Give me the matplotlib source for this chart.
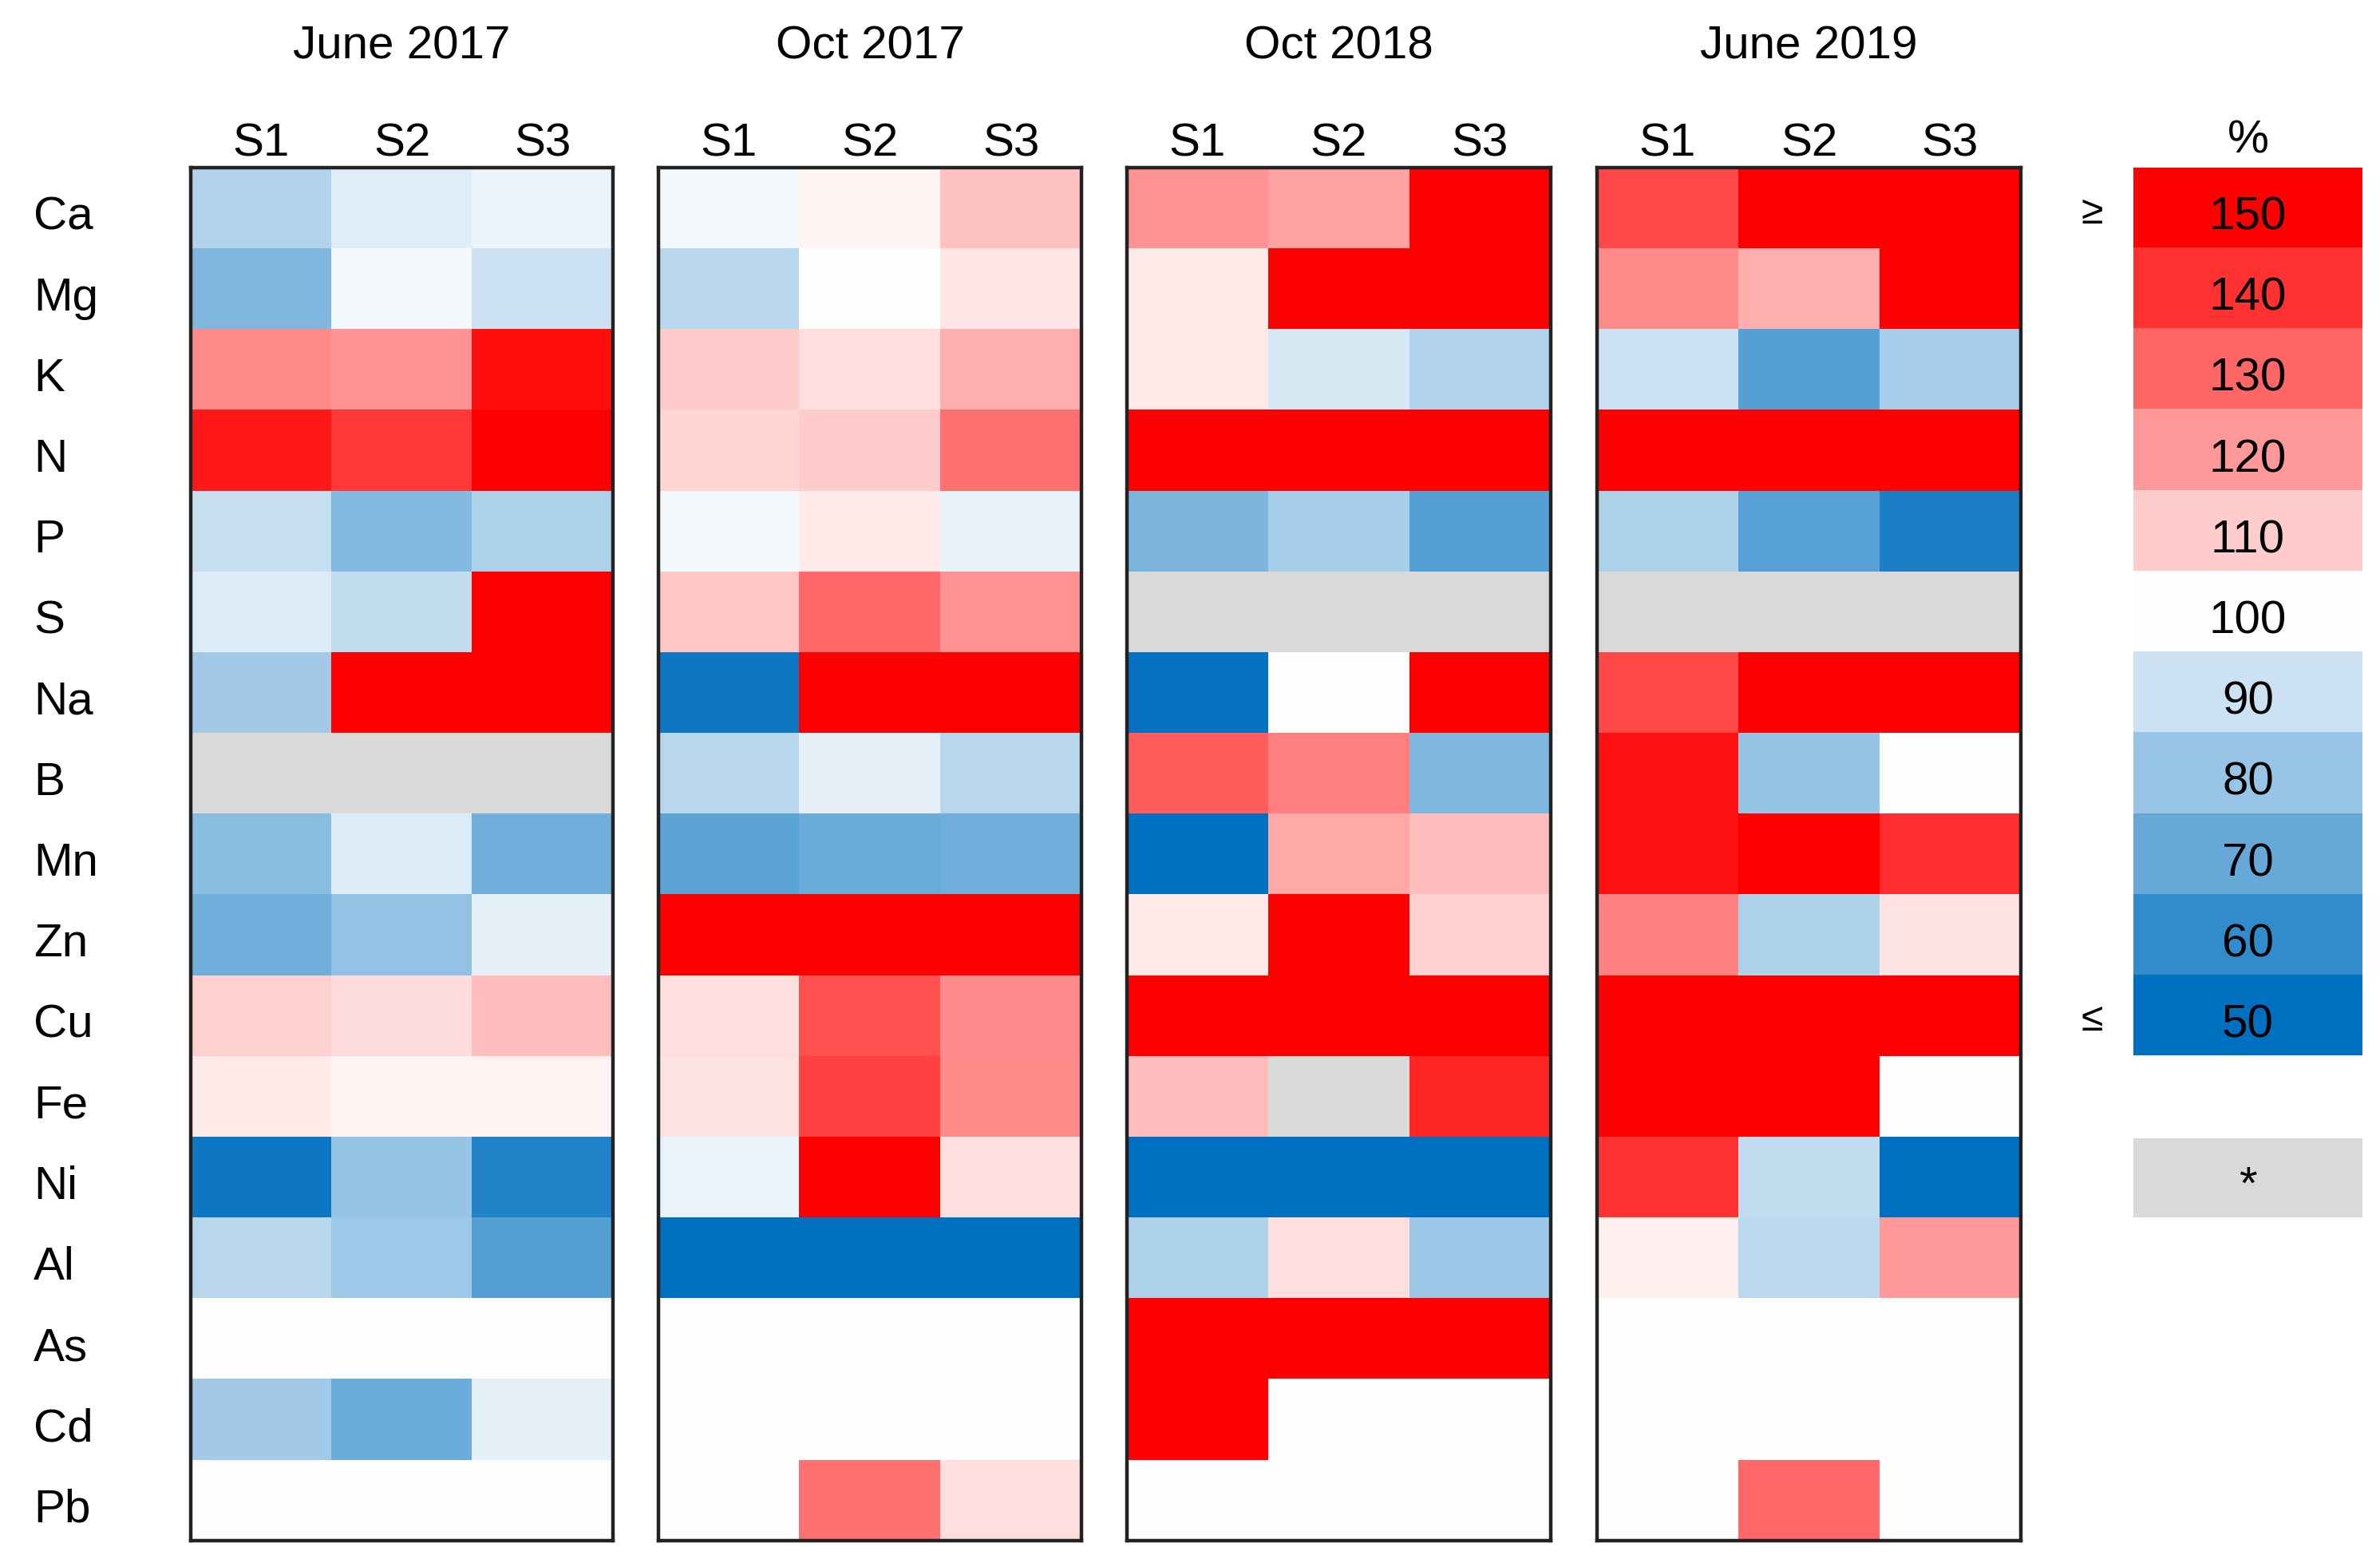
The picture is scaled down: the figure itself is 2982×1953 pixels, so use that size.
import numpy as np
import matplotlib
matplotlib.use("Agg")
import matplotlib.pyplot as plt
from matplotlib.colors import LinearSegmentedColormap, Normalize

plt.rcParams['font.family'] = ['Liberation Sans Narrow', 'Liberation Sans', 'DejaVu Sans']

elements = ["Ca", "Mg", "K", "N", "P", "S", "Na", "B", "Mn", "Zn",
            "Cu", "Fe", "Ni", "Al", "As", "Cd", "Pb"]
sites = ["S1", "S2", "S3"]
campaigns = ["June 2017", "Oct 2017", "Oct 2018", "June 2019"]
nan = np.nan

# % values (rows = elements, cols = S1..S3); nan = no data (*)
june_2017 = [
    [85, 94, 96], [75, 98, 90], [123, 121, 147], [145, 139, 155],
    [89, 76, 84], [93, 88, 155], [82, 155, 155], [nan, nan, nan],
    [77, 93, 72], [72, 79, 95], [109, 107, 113], [104, 102, 102.5],
    [53, 79.5, 57], [86, 81, 66.5], [100, 100, 100], [82, 71, 95],
    [100, 100, 100]]
oct_2017 = [
    [98, 102, 112], [86.5, 100, 105], [110, 106.5, 116], [108, 110, 128],
    [98, 104, 95.5], [111, 129, 121], [53, 155, 155], [86, 95, 86],
    [68, 71, 72], [155, 155, 155], [106.5, 134, 122.5], [105.5, 137, 123],
    [96, 155, 106.5], [45, 45, 45], [100, 100, 100], [100, 100, 100],
    [100, 128, 106.5]]
oct_2018 = [
    [121, 118, 155], [104, 155, 155], [104, 92, 84.5], [155, 155, 155],
    [74.5, 82.5, 66.5], [nan, nan, nan], [51, 100, 155], [132, 125, 75],
    [45, 117, 113], [104, 155, 109], [155, 155, 155], [113, nan, 142.5],
    [45, 45, 45], [84, 106.5, 80.5], [155, 155, 155], [155, 100, 100],
    [100, 100, 100]]
june_2019 = [
    [135.5, 155, 155], [123, 116, 155], [90, 66.5, 82.5], [155, 155, 155],
    [84, 67, 55.5], [nan, nan, nan], [135.5, 155, 155], [146.5, 79.5, 100],
    [146.5, 150, 141], [124.5, 84, 105.5], [155, 155, 155], [155, 155, 100],
    [140, 88, 45], [103, 87, 120], [100, 100, 100], [100, 100, 100],
    [100, 129.5, 100]]

legend_values = [150, 140, 130, 120, 110, 100, 90, 80, 70, 60, 50]

panels = [june_2017, oct_2017, oct_2018, june_2019]

cmap = LinearSegmentedColormap.from_list(
    "bwr_excel", [(0.0, (0/255, 112/255, 192/255)), (0.5, (1, 1, 1)), (1.0, (1, 0, 0))])
cmap.set_bad((217/255, 217/255, 217/255))
norm = Normalize(vmin=50, vmax=150)

W, H = 2982, 1953
fig = plt.figure(figsize=(W / 200, H / 200), dpi=200)

def fx(px):
    return px / W

def fy(py):
    return 1 - py / H

top, bottom = 210, 1930
row_h = (bottom - top) / len(elements)
panel_x = [(239, 768), (825, 1355), (1412, 1943), (2001, 2532)]
fs = 21
dy = 12  # text sits a little below the cell centre

for (x0, x1), data, title in zip(panel_x, panels, campaigns):
    ax = fig.add_axes([fx(x0), fy(bottom), fx(x1 - x0), (bottom - top) / H])
    arr = np.ma.masked_invalid(np.array(data, dtype=float))
    ax.imshow(arr, cmap=cmap, norm=norm, aspect='auto', interpolation='nearest')
    ax.set_xticks(range(3))
    ax.set_xticklabels(sites, fontsize=fs)
    ax.xaxis.tick_top()
    ax.tick_params(axis='x', length=0, pad=1)
    ax.set_yticks([])
    for sp in ax.spines.values():
        sp.set_linewidth(1.6)
        sp.set_color('#222222')
    fig.text(fx((x0 + x1) / 2), fy(58), title, ha='center', va='center', fontsize=fs)

# element labels
for i, el in enumerate(elements):
    fig.text(fx(42), fy(top + (i + 0.5) * row_h + dy), el, ha='left', va='center', fontsize=fs)

# legend
lx0, lx1 = 2673, 2960
n_leg = 13
lax = fig.add_axes([fx(lx0), fy(top + n_leg * row_h), fx(lx1 - lx0), n_leg * row_h / H])
leg = np.full((n_leg, 1), np.nan)
leg[:len(legend_values), 0] = legend_values
leg_arr = np.ma.masked_invalid(leg)
lax.imshow(leg_arr, cmap=cmap, norm=norm, aspect='auto', interpolation='nearest')
# blank row between scale and "no data" box
lax.axhspan(len(legend_values) - 0.5, len(legend_values) + 0.5, color='white')
for i, v in enumerate(legend_values):
    lax.text(0, i + dy / row_h, str(v), ha='center', va='center', fontsize=fs)
lax.text(0, 12 + dy / row_h, "*", ha='center', va='center', fontsize=fs)
lax.set_xlim(-0.5, 0.5)
lax.set_ylim(n_leg - 0.5, -0.5)
lax.axis('off')
fig.text(fx((lx0 + lx1) / 2), fy(176), "%", ha='center', va='center', fontsize=fs)
fig.text(fx(2621), fy(top + 0.5 * row_h + 6), "≥", ha='center', va='center', fontsize=18)
fig.text(fx(2621), fy(top + 10.5 * row_h + 6), "≤", ha='center', va='center', fontsize=18)

fig.savefig("out.png", dpi=200, facecolor='white')
